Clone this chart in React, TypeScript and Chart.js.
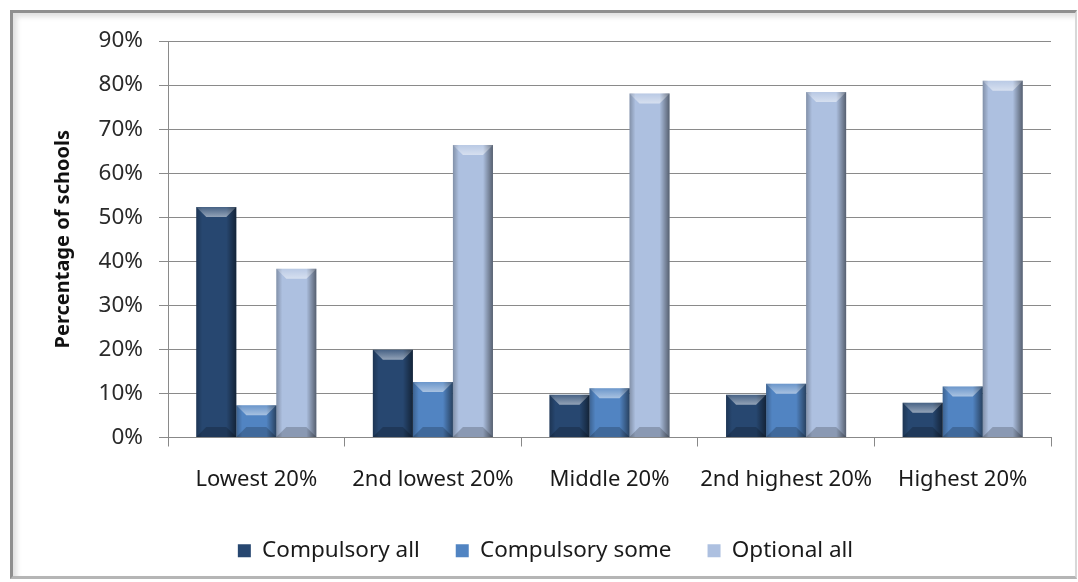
import React, { useEffect, useRef } from "react";
import { Chart, registerables } from "chart.js";

Chart.register(...registerables);

const categories = ["Lowest 20%", "2nd lowest 20%", "Middle 20%", "2nd highest 20%", "Highest 20%"];
const compulsoryAll = [52.3, 19.9, 9.7, 9.7, 7.9];
const compulsorySome = [7.3, 12.6, 11.2, 12.2, 11.6];
const optionalAll = [38.3, 66.4, 78.1, 78.4, 81.0];
const seriesNames = ["Compulsory all", "Compulsory some", "Optional all"];
const seriesColors = ["#274770", "#5184C2", "#ADC0E0"];

const FONT = "'Noto Sans', sans-serif";

const bevelPlugin = {
  id: "bevel",
  afterDatasetsDraw(chart: any) {
    const ctx = chart.ctx;
    chart.data.datasets.forEach((_: any, di: number) => {
      const meta = chart.getDatasetMeta(di);
      meta.data.forEach((bar: any) => {
        const { x, y, base, width } = bar.getProps(["x", "y", "base", "width"], true);
        const left = x - width / 2;
        const right = x + width / 2;
        const top = Math.min(y, base);
        const bottom = Math.max(y, base);
        const h = bottom - top;
        const b = Math.min(10, h / 2);
        ctx.save();
        let g = ctx.createLinearGradient(right - 10, 0, right, 0);
        g.addColorStop(0, "rgba(0,0,0,0)");
        g.addColorStop(1, "rgba(0,0,0,0.5)");
        ctx.fillStyle = g;
        ctx.fillRect(right - 10, top, 10, h);
        g = ctx.createLinearGradient(left, 0, left + 6, 0);
        g.addColorStop(0, "rgba(0,0,0,0.25)");
        g.addColorStop(1, "rgba(0,0,0,0)");
        ctx.fillStyle = g;
        ctx.fillRect(left, top, 6, h);
        ctx.beginPath();
        ctx.moveTo(left, top);
        ctx.lineTo(right, top);
        ctx.lineTo(right - b, top + b);
        ctx.lineTo(left + b, top + b);
        ctx.closePath();
        g = ctx.createLinearGradient(0, top, 0, top + b);
        g.addColorStop(0, "rgba(255,255,255,0.15)");
        g.addColorStop(1, "rgba(255,255,255,0.5)");
        ctx.fillStyle = g;
        ctx.fill();
        ctx.beginPath();
        ctx.moveTo(left, bottom);
        ctx.lineTo(right, bottom);
        ctx.lineTo(right - b, bottom - b);
        ctx.lineTo(left + b, bottom - b);
        ctx.closePath();
        ctx.fillStyle = "rgba(0,0,0,0.2)";
        ctx.fill();
        ctx.restore();
      });
    });
  },
};

export default function App() {
  const ref = useRef<HTMLCanvasElement | null>(null);
  useEffect(() => {
    if (!ref.current) return;
    const data = [compulsoryAll, compulsorySome, optionalAll];
    const chart = new Chart(ref.current, {
      type: "bar",
      data: {
        labels: categories,
        datasets: data.map((d, i) => ({
          label: seriesNames[i],
          data: d,
          backgroundColor: seriesColors[i],
          borderWidth: 0,
          barPercentage: 1,
          categoryPercentage: 0.68,
        })),
      },
      options: {
        responsive: false,
        animation: false,
        events: [],
        layout: { padding: { left: 40, right: 27, top: 41, bottom: 10 } },
        plugins: {
          tooltip: { enabled: false },
          legend: {
            position: "bottom",
            labels: {
              font: { family: FONT, size: 22.5 },
              color: "#1a1a1a",
              boxWidth: 13,
              boxHeight: 13,
              padding: 36,
            },
          },
        },
        scales: {
          x: {
            afterFit: (s: any) => { s.height = 66; },
            grid: { drawOnChartArea: false, drawTicks: true, tickLength: 9, offset: true, color: "#888" },
            border: { display: true, color: "#888" },
            ticks: { font: { family: FONT, size: 22 }, color: "#1a1a1a", padding: 20, maxRotation: 0 },
          },
          y: {
            min: 0,
            max: 90,
            afterFit: (s: any) => { s.width = 128; },
            grid: { color: "#8a8a8a", tickLength: 9 },
            border: { display: true, color: "#8a8a8a" },
            ticks: {
              stepSize: 10,
              font: { family: FONT, size: 22.5 },
              color: "#2a2a2a",
              padding: 16,
              callback: (v: any) => v + "%",
            },
            title: {
              display: true,
              text: "Percentage of schools",
              font: { family: FONT, size: 20, weight: "bold" },
              color: "#111",
              padding: { top: 11, bottom: 0 },
            },
          },
        },
      },
      plugins: [bevelPlugin],
    });
    return () => chart.destroy();
  }, []);
  return (
    <div style={{ position: "fixed", left: 0, top: 0, width: 1078, height: 582, background: "#fff", overflow: "hidden" }}>
      <div
        style={{
          position: "absolute",
          left: 10,
          top: 10,
          width: 1062,
          height: 563,
          borderLeft: "3px solid #8f8f8f",
          borderTop: "3px solid #8f8f8f",
          borderRight: "2px solid #d8d8d8",
          borderBottom: "3px solid #b5b5b5",
          boxShadow: "inset 4px 4px 5px rgba(0,0,0,0.12)",
        }}
      />
      <canvas ref={ref} width={1078} height={582} style={{ position: "absolute", left: 0, top: 0 }} />
    </div>
  );
}
